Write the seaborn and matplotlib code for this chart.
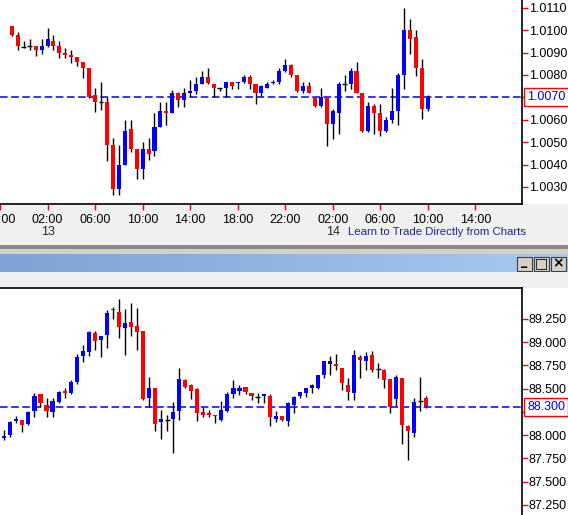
import numpy as np
import pandas as pd
import matplotlib
matplotlib.use('Agg')
import matplotlib.pyplot as plt
import matplotlib.transforms as mtransforms
from matplotlib.patches import Rectangle
import seaborn as sns

# 30-minute candles, index 0 = 23:00 on the 12th, last = 10:00 on the 14th
top_open = [1.01019, 1.00980, 1.00926, 1.00928, 1.00929, 1.00912, 1.00929, 1.00952, 1.00929, 1.00900,
            1.00891, 1.00882, 1.00859, 1.00831, 1.00710, 1.00678, 1.00679, 1.00487, 1.00289, 1.00399,
            1.00558, 1.00469, 1.00381, 1.00469, 1.00462, 1.00569, 1.00639, 1.00631, 1.00718, 1.00690,
            1.00721, 1.00730, 1.00760, 1.00791, 1.00760, 1.00740, 1.00743, 1.00770, 1.00763, 1.00770,
            1.00791, 1.00760, 1.00721, 1.00743, 1.00763, 1.00770, 1.00818, 1.00842, 1.00800, 1.00728,
            1.00751, 1.00700, 1.00661, 1.00700, 1.00582, 1.00631, 1.00758, 1.00760, 1.00818, 1.00719,
            1.00550, 1.00661, 1.00630, 1.00550, 1.00599, 1.00639, 1.00800, 1.01001, 1.00970, 1.00831,
            1.00649]
top_high = [1.01019, 1.00992, 1.00950, 1.00961, 1.00929, 1.00961, 1.01010, 1.00980, 1.00950, 1.00919,
            1.00912, 1.00882, 1.00859, 1.00831, 1.00742, 1.00770, 1.00700, 1.00520, 1.00487, 1.00599,
            1.00599, 1.00469, 1.00500, 1.00520, 1.00628, 1.00681, 1.00681, 1.00733, 1.00725, 1.00740,
            1.00777, 1.00791, 1.00819, 1.00831, 1.00760, 1.00742, 1.00770, 1.00770, 1.00770, 1.00801,
            1.00801, 1.00760, 1.00755, 1.00770, 1.00779, 1.00830, 1.00871, 1.00849, 1.00800, 1.00767,
            1.00769, 1.00700, 1.00742, 1.00700, 1.00648, 1.00770, 1.00800, 1.00830, 1.00859, 1.00719,
            1.00678, 1.00670, 1.00670, 1.00611, 1.00742, 1.00810, 1.01099, 1.01050, 1.01001, 1.00871,
            1.00710]
top_low = [1.00974, 1.00909, 1.00918, 1.00909, 1.00886, 1.00895, 1.00926, 1.00909, 1.00877, 1.00877,
           1.00855, 1.00839, 1.00788, 1.00699, 1.00636, 1.00643, 1.00417, 1.00265, 1.00265, 1.00396,
           1.00457, 1.00336, 1.00336, 1.00418, 1.00439, 1.00569, 1.00576, 1.00628, 1.00658, 1.00658,
           1.00700, 1.00715, 1.00758, 1.00758, 1.00700, 1.00727, 1.00703, 1.00739, 1.00739, 1.00766,
           1.00739, 1.00669, 1.00707, 1.00740, 1.00760, 1.00758, 1.00815, 1.00789, 1.00725, 1.00718,
           1.00718, 1.00658, 1.00658, 1.00484, 1.00515, 1.00536, 1.00728, 1.00737, 1.00718, 1.00547,
           1.00547, 1.00536, 1.00526, 1.00547, 1.00587, 1.00576, 1.00737, 1.00894, 1.00797, 1.00605,
           1.00639]
top_close = [1.00980, 1.00931, 1.00926, 1.00928, 1.00912, 1.00929, 1.00961, 1.00929, 1.00900, 1.00891,
             1.00882, 1.00859, 1.00831, 1.00700, 1.00681, 1.00678, 1.00488, 1.00289, 1.00399, 1.00550,
             1.00469, 1.00381, 1.00469, 1.00448, 1.00569, 1.00639, 1.00630, 1.00718, 1.00690, 1.00718,
             1.00730, 1.00760, 1.00791, 1.00763, 1.00743, 1.00740, 1.00770, 1.00752, 1.00770, 1.00791,
             1.00761, 1.00721, 1.00751, 1.00760, 1.00770, 1.00819, 1.00842, 1.00800, 1.00730, 1.00751,
             1.00721, 1.00661, 1.00700, 1.00582, 1.00637, 1.00760, 1.00758, 1.00818, 1.00719, 1.00550,
             1.00661, 1.00631, 1.00551, 1.00599, 1.00639, 1.00800, 1.01001, 1.00961, 1.00833, 1.00649,
             1.00700]

bot_open = [87.974, 88.003, 88.157, 88.164, 88.125, 88.264, 88.444, 88.325, 88.254, 88.361,
            88.476, 88.451, 88.576, 88.856, 88.899, 89.100, 89.024, 89.082, 89.358, 89.325,
            89.157, 89.218, 89.175, 89.121, 88.404, 88.508, 88.146, 88.160, 88.178, 88.264,
            88.594, 88.540, 88.497, 88.250, 88.239, 88.218, 88.168, 88.264, 88.447, 88.479,
            88.519, 88.454, 88.411, 88.426, 88.422, 88.178, 88.207, 88.157, 88.329, 88.422,
            88.454, 88.512, 88.508, 88.651, 88.770, 88.770, 88.723, 88.540, 88.458, 88.841,
            88.802, 88.863, 88.709, 88.702, 88.605, 88.393, 88.616, 88.100, 88.028, 88.368,
            88.401]
bot_high = [88.057, 88.153, 88.207, 88.164, 88.261, 88.454, 88.444, 88.401, 88.401, 88.476,
            88.508, 88.594, 88.874, 88.970, 89.121, 89.121, 89.071, 89.347, 89.379, 89.465,
            89.358, 89.422, 89.368, 89.121, 88.626, 88.508, 88.272, 88.218, 88.358, 88.723,
            88.605, 88.551, 88.508, 88.304, 88.272, 88.218, 88.368, 88.465, 88.594, 88.540,
            88.519, 88.454, 88.454, 88.444, 88.444, 88.261, 88.211, 88.358, 88.422, 88.465,
            88.508, 88.551, 88.648, 88.798, 88.852, 88.874, 88.723, 88.616, 88.917, 88.863,
            88.895, 88.906, 88.777, 88.712, 88.605, 88.648, 88.616, 88.110, 88.401, 88.626,
            88.422]
bot_low = [87.953, 87.985, 88.135, 88.039, 88.114, 88.200, 88.300, 88.200, 88.200, 88.350,
           88.404, 88.444, 88.555, 88.791, 88.856, 88.917, 88.845, 88.942, 89.246, 89.049,
           88.866, 89.071, 88.920, 88.383, 88.307, 88.049, 87.963, 88.049, 87.813, 88.168,
           88.512, 88.393, 88.157, 88.200, 88.200, 88.135, 88.157, 88.254, 88.404, 88.436,
           88.447, 88.383, 88.350, 88.350, 88.103, 88.146, 88.157, 88.103, 88.243, 88.404,
           88.415, 88.458, 88.497, 88.619, 88.651, 88.705, 88.490, 88.383, 88.383, 88.619,
           88.702, 88.684, 88.619, 88.508, 88.243, 88.315, 87.910, 87.738, 87.985, 88.264,
           88.297]
bot_close = [87.996, 88.142, 88.178, 88.114, 88.250, 88.422, 88.350, 88.264, 88.368, 88.465,
             88.454, 88.573, 88.841, 88.906, 89.110, 89.013, 89.067, 89.315, 89.347, 89.168,
             89.207, 89.168, 89.114, 88.393, 88.508, 88.125, 88.175, 88.160, 88.250, 88.605,
             88.522, 88.479, 88.243, 88.221, 88.218, 88.211, 88.272, 88.444, 88.508, 88.508,
             88.469, 88.426, 88.411, 88.444, 88.200, 88.207, 88.168, 88.347, 88.411, 88.462,
             88.505, 88.540, 88.648, 88.798, 88.798, 88.748, 88.565, 88.469, 88.863, 88.813,
             88.852, 88.702, 88.709, 88.598, 88.307, 88.626, 88.114, 88.049, 88.358, 88.368,
             88.315]

top_last = 1.0070
bot_last = 88.300
top_yticks = [1.0030, 1.0040, 1.0050, 1.0060, 1.0070, 1.0080, 1.0090, 1.0100, 1.0110]
bot_yticks = [87.25, 87.50, 87.75, 88.00, 88.25, 88.50, 88.75, 89.00, 89.25]
time_ticks = [-2, 6, 14, 22, 30, 38, 46, 54, 62, 70, 78]
time_labels = ['22:00', '02:00', '06:00', '10:00', '14:00', '18:00',
               '22:00', '02:00', '06:00', '10:00', '14:00']
day_ticks = [6, 54]
day_labels = ['13', '14']

sns.set_style('white')
plt.rcParams['font.family'] = ['Liberation Sans', 'DejaVu Sans']

W, H = 568, 515
fig = plt.figure(figsize=(W / 100, H / 100), dpi=100, facecolor='#f0f0f0')


def frac(x0, y0, x1, y1):
    return [x0 / W, 1 - y1 / H, (x1 - x0) / W, (y1 - y0) / H]


# white areas and separators, behind the axes
for box, col in [((0, 0, 568, 204), 'white'), ((0, 288, 568, 515), 'white'),
                 ((0, 245, 568, 249), '#8a8a8a'), ((0, 249, 568, 254), '#d4d0c8')]:
    l, b, w, h = frac(*box)
    fig.patches.append(Rectangle((l, b), w, h, transform=fig.transFigure,
                                 facecolor=col, edgecolor='none', zorder=-10))

# title bar gradient
bar = fig.add_axes(frac(0, 254, 568, 272))
grad = np.linspace(0, 1, 256)[None, :]
cmap = matplotlib.colors.LinearSegmentedColormap.from_list('bar', ['#7ea2d3', '#a6caf0'])
bar.imshow(grad, aspect='auto', cmap=cmap, extent=[0, 568, 0, 18])
bar.set_axis_off()
for x0, sym in [(517, '_'), (534, '□'), (551, '×')]:
    bar.add_patch(Rectangle((x0, 1.5), 15, 14, facecolor='#d4d0c8', edgecolor='#404040', lw=0.8))
    bar.text(x0 + 7.5, 8.5 if sym != '_' else 11, sym, ha='center', va='center',
             fontsize=10 if sym != '_' else 9, fontweight='bold', color='black',
             family=['DejaVu Sans'])


def candles(ax, o, h, l, c):
    df = pd.DataFrame({'o': o, 'h': h, 'l': l, 'c': c})
    df['i'] = np.arange(len(df))
    ax.vlines(df['i'].to_numpy(), df['l'].to_numpy(), df['h'].to_numpy(),
              color='black', lw=1.0, zorder=2)
    up = df[df['c'] > df['o']]
    dn = df[df['c'] < df['o']]
    dj = df[df['c'] == df['o']]
    ax.bar(up['i'].to_numpy(), (up['c'] - up['o']).to_numpy(), bottom=up['o'].to_numpy(),
           width=0.68, color='#0000ff', lw=0, zorder=3)
    ax.bar(dn['i'].to_numpy(), (dn['o'] - dn['c']).to_numpy(), bottom=dn['c'].to_numpy(),
           width=0.68, color='#ff0000', lw=0, zorder=3)
    ax.hlines(dj['o'].to_numpy(), dj['i'].to_numpy() - 0.4, dj['i'].to_numpy() + 0.4,
              color='black', lw=1.0, zorder=3)


def style(ax, last, fmt):
    ax.set_facecolor('white')
    ax.set_xlim(-0.713, 85.85)
    ax.yaxis.tick_right()
    ax.tick_params(axis='y', colors='red', labelcolor='black', length=4, width=1,
                   direction='out', labelsize=9, pad=1)
    ax.yaxis.set_major_formatter(matplotlib.ticker.FormatStrFormatter(fmt))
    ax.axhline(last, color='#0000ff', lw=1.1, ls=(0, (5, 2.3)), zorder=1)
    tr = mtransforms.blended_transform_factory(ax.transAxes, ax.transData)
    ax.text(1.01, last, fmt % last, transform=tr, va='center', ha='left', color='#0000ff',
            fontsize=9, bbox=dict(boxstyle='square,pad=0.25', fc='white', ec='red', lw=1),
            zorder=5, clip_on=False)
    for s in ['left', 'top', 'bottom', 'right']:
        ax.spines[s].set_visible(False)


ax1 = fig.add_axes(frac(0, 0, 522, 204))
candles(ax1, top_open, top_high, top_low, top_close)
style(ax1, top_last, '%.4f')
ax1.set_ylim(1.002237, 1.011344)
ax1.set_yticks(top_yticks)
for s in ['right', 'bottom']:
    ax1.spines[s].set_visible(True)
    ax1.spines[s].set_color('black')
    ax1.spines[s].set_linewidth(1.2)
ax1.set_xticks(time_ticks)
ax1.set_xticklabels(time_labels)
ax1.tick_params(axis='x', colors='red', labelcolor='black', length=4, width=1,
                direction='out', labelsize=9, pad=3, bottom=True)
trx = mtransforms.blended_transform_factory(ax1.transData, fig.transFigure)
for t, lab in zip(day_ticks, day_labels):
    ax1.text(t, 1 - 232 / H, lab, transform=trx, ha='center', va='center', fontsize=9)
fig.text(437 / W, 1 - 232 / H, 'Learn to Trade Directly from Charts', ha='center', va='center',
         fontsize=8.2, color='#1f1fa8')

ax2 = fig.add_axes(frac(0, 288, 522, 515))
candles(ax2, bot_open, bot_high, bot_low, bot_close)
style(ax2, bot_last, '%.3f')
ax2.set_ylim(87.142, 89.583)
ax2.set_yticks(bot_yticks)
ax2.set_xticks([])
for s in ['right', 'top']:
    ax2.spines[s].set_visible(True)
    ax2.spines[s].set_color('black')
    ax2.spines[s].set_linewidth(1.2)

fig.savefig('out.png', dpi=100, facecolor=fig.get_facecolor())
